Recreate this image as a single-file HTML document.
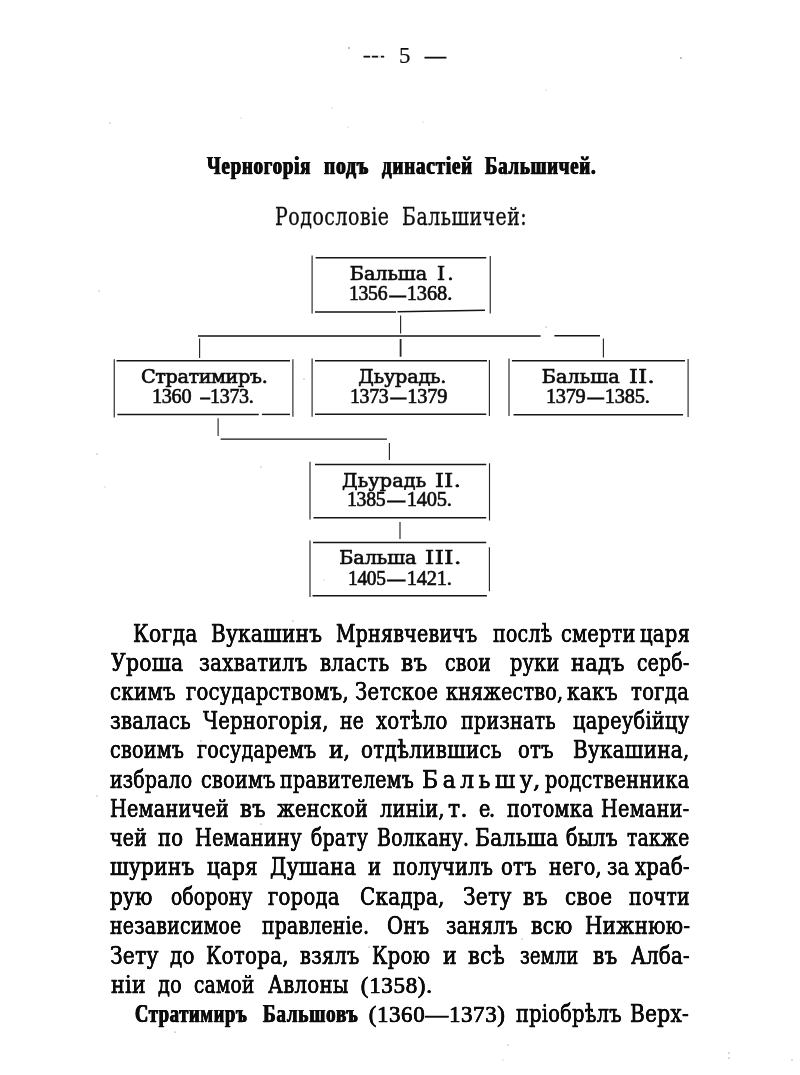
<!DOCTYPE html>
<html lang="ru"><head><meta charset="utf-8"><title>Черногорія подъ династіей Бальшичей</title>
<style>
html,body{margin:0;padding:0;background:#fff}
body{width:800px;height:1075px;position:relative;overflow:hidden;color:#0c0c0c}
.w{position:absolute;white-space:nowrap;line-height:30px;height:30px;transform-origin:0 0}
.page{position:absolute;left:0;top:0;width:800px;height:1075px;will-change:transform}
.b{font-family:'DejaVu Serif Condensed','DejaVu Serif','Liberation Serif',serif;font-size:24.3px;font-weight:normal;-webkit-text-stroke:0.3px #0c0c0c;text-shadow:0.2px 0 0 #0c0c0c,-0.2px 0 0 #0c0c0c}
.bb{font-family:'Liberation Serif','DejaVu Serif',serif;font-size:26.0px;font-weight:bold;-webkit-text-stroke:0.25px #0c0c0c;text-shadow:0.65px 0 0 #0c0c0c,-0.65px 0 0 #0c0c0c}
.t{font-family:'Liberation Serif','DejaVu Serif',serif;font-size:26.0px;font-weight:bold;-webkit-text-stroke:0.25px #0c0c0c;text-shadow:0.75px 0 0 #0c0c0c,-0.75px 0 0 #0c0c0c}
.s{font-family:'DejaVu Serif Condensed','DejaVu Serif','Liberation Serif',serif;font-size:23.4px;font-weight:normal;-webkit-text-stroke:0.3px #0c0c0c}
.n{font-family:'DejaVu Serif','Liberation Serif',serif;font-size:19.2px;font-weight:normal;-webkit-text-stroke:0.7px #0c0c0c}
.d{font-family:'Liberation Serif','DejaVu Serif',serif;font-size:20.4px;font-weight:normal;-webkit-text-stroke:0.65px #0c0c0c}
.bd{font-family:'Liberation Serif','DejaVu Serif',serif;font-size:23.0px;font-weight:normal;-webkit-text-stroke:0.5px #0c0c0c;text-shadow:0.25px 0 0 #0c0c0c,-0.25px 0 0 #0c0c0c}
.dd{font-family:'Liberation Serif','DejaVu Serif',serif;font-size:14.0px;font-weight:normal;-webkit-text-stroke:1.4px #0c0c0c}
.hd{font-family:'Liberation Serif','DejaVu Serif',serif;font-size:22.0px;font-weight:normal;-webkit-text-stroke:0.7px #0c0c0c}
.p{font-family:'Liberation Serif','DejaVu Serif',serif;font-size:23.0px;font-weight:normal;-webkit-text-stroke:0.2px #0c0c0c}

svg.rules{position:absolute;left:0;top:0}
.gap{position:absolute;background:#fff;z-index:3;opacity:.85}

</style></head>
<body>
<div class="page">
<svg class="rules" width="800" height="1075" viewBox="0 0 800 1075"><g stroke="#151515" stroke-width="1.45" fill="none"><line x1="315.6" y1="257.7" x2="486.25" y2="257.7"/><line x1="315" y1="312.0" x2="396" y2="312.0"/><line x1="397.5" y1="311.7" x2="485" y2="310.2"/><line x1="198" y1="336" x2="540.6" y2="336"/><line x1="554.4" y1="335.8" x2="600" y2="335.8"/><line x1="116.5" y1="360.7" x2="290" y2="360.7"/><line x1="117.4" y1="414.4" x2="258.75" y2="414.4"/><line x1="261.9" y1="414.4" x2="290" y2="414.4"/><line x1="315" y1="360.75" x2="487" y2="360.75"/><line x1="315" y1="414.3" x2="486.25" y2="414.3"/><line x1="511.9" y1="360.75" x2="685" y2="360.75"/><line x1="513.5" y1="414.7" x2="683.1" y2="414.7"/><line x1="220.6" y1="439.1" x2="386.9" y2="439.1"/><line x1="315" y1="464.4" x2="486.25" y2="464.4"/><line x1="313.5" y1="517.8" x2="486.25" y2="517.8"/><line x1="313" y1="542.4" x2="486.25" y2="542.4"/><line x1="312.5" y1="595.8" x2="486.9" y2="595.8"/></g><g stroke="#262626" stroke-width="1.15" fill="none"><line x1="312.1" y1="255.5" x2="312.1" y2="313.6"/><line x1="490.25" y1="256" x2="490.25" y2="313.6"/><line x1="400.6" y1="315.5" x2="400.6" y2="333.5"/><line x1="400.6" y1="339" x2="400.6" y2="356.75" stroke-width="1.8"/><line x1="199.6" y1="338.6" x2="199.6" y2="358"/><line x1="603.4" y1="338.6" x2="603.4" y2="357.4"/><line x1="114.25" y1="359.25" x2="114.25" y2="417.4"/><line x1="292.9" y1="359.25" x2="292.9" y2="416.75"/><line x1="312.1" y1="358.6" x2="312.1" y2="416.75"/><line x1="489.4" y1="360" x2="489.4" y2="416"/><line x1="509" y1="358.6" x2="509" y2="416"/><line x1="688.1" y1="359" x2="688.1" y2="417"/><line x1="218.1" y1="418.25" x2="218.1" y2="436.1"/><line x1="389.4" y1="443" x2="389.4" y2="459.9"/><line x1="310" y1="461.75" x2="310" y2="519.4"/><line x1="489.5" y1="463.25" x2="489.5" y2="520.5"/><line x1="400" y1="522" x2="400" y2="539"/><line x1="310" y1="540.6" x2="310" y2="596.9"/><line x1="489.4" y1="547.25" x2="489.4" y2="591.25"/></g><g fill="#555" stroke="none"><circle cx="349" cy="48" r="0.7"/><circle cx="110" cy="123" r="0.5"/><circle cx="332" cy="108" r="0.4"/><circle cx="241" cy="118" r="0.4"/><circle cx="348" cy="127" r="0.4"/><circle cx="99" cy="291" r="0.5"/><circle cx="304" cy="379" r="0.5"/><circle cx="97" cy="454" r="0.5"/><circle cx="261" cy="467" r="0.5"/><circle cx="105" cy="487" r="0.4"/><circle cx="681" cy="58" r="0.7"/><circle cx="546" cy="90" r="0.4"/><circle cx="423" cy="122" r="0.4"/><circle cx="546" cy="327" r="0.5"/><circle cx="293" cy="621" r="0.5"/><circle cx="201" cy="741" r="0.6"/><circle cx="97" cy="796" r="0.5"/><circle cx="261" cy="824" r="0.6"/><circle cx="369" cy="947" r="0.5"/><circle cx="175" cy="1032" r="0.6"/><circle cx="324" cy="580" r="0.4"/><circle cx="522" cy="939" r="0.5"/><circle cx="508" cy="1045" r="0.5"/><circle cx="729" cy="1053" r="0.6"/><circle cx="729" cy="1058" r="0.6"/><circle cx="792" cy="1060" r="0.5"/><circle cx="503" cy="1060" r="0.4"/></g></svg>
<div class="ln hdr">
<span class="w hd" style="left:364.20px;top:40.20px;transform:scaleX(0.8978)">—</span>
<span class="w p" style="left:398.76px;top:41.00px;transform:scaleX(0.9895)">5</span>
<span class="w hd" style="left:425.48px;top:41.20px;transform:scaleX(0.9522)">—</span>
</div>
<div class="ln title">
<span class="w t" style="left:207.26px;top:151.00px;letter-spacing:1.20px;transform:scaleX(0.7186)">Черногорія</span>
<span class="w t" style="left:324.40px;top:151.00px;letter-spacing:1.20px;transform:scaleX(0.7473)">подъ</span>
<span class="w t" style="left:381.61px;top:151.00px;letter-spacing:1.20px;transform:scaleX(0.7290)">династіей</span>
<span class="w t" style="left:485.18px;top:151.00px;letter-spacing:1.20px;transform:scaleX(0.7179)">Бальшичей.</span>
</div>
<div class="ln sub">
<span class="w s" style="left:275.10px;top:201.50px;letter-spacing:0.60px;transform:scaleX(0.8993)">Родословіе</span>
<span class="w s" style="left:401.60px;top:201.50px;letter-spacing:0.60px;transform:scaleX(0.8953)">Бальшичей:</span>
</div>
<div class="ln box">
<span class="w n" style="left:349.85px;top:258.90px;letter-spacing:-0.04px">Бальша</span>
<span class="w n" style="left:436.70px;top:258.90px;letter-spacing:2.00px;transform:scaleX(1.0667)">I.</span>
<span class="w d" style="left:348.55px;top:278.25px;letter-spacing:-0.30px;transform:scaleX(0.9659)">1356</span>
<span class="w dd" style="left:389.53px;top:280.55px;transform:scaleX(1.1032)">—</span>
<span class="w d" style="left:406.70px;top:278.25px;letter-spacing:-0.05px">1368.</span>
</div>
<div class="ln box">
<span class="w n" style="left:141.00px;top:362.00px;letter-spacing:-0.40px">Стратимиръ.</span>
<span class="w d" style="left:152.11px;top:380.90px;letter-spacing:-0.30px;transform:scaleX(0.9908)">1360</span>
<span class="w dd" style="left:201.39px;top:383.20px;transform:scaleX(1.1882)">–</span>
<span class="w d" style="left:210.43px;top:380.90px;letter-spacing:-0.30px;transform:scaleX(0.9798)">1373.</span>
</div>
<div class="ln box">
<span class="w n" style="left:358.25px;top:362.00px;letter-spacing:-0.18px">Дьурадь.</span>
<span class="w d" style="left:349.79px;top:380.90px;letter-spacing:-0.30px;transform:scaleX(0.9709)">1373</span>
<span class="w dd" style="left:390.69px;top:383.20px;transform:scaleX(1.0581)">—</span>
<span class="w d" style="left:407.20px;top:380.90px;letter-spacing:-0.18px">1379</span>
</div>
<div class="ln box">
<span class="w n" style="left:541.75px;top:362.00px;letter-spacing:0.08px">Бальша</span>
<span class="w n" style="left:629.12px;top:362.00px;letter-spacing:0.40px;transform:scaleX(1.1667)">II.</span>
<span class="w d" style="left:545.76px;top:380.90px;letter-spacing:-0.30px;transform:scaleX(0.9947)">1379</span>
<span class="w dd" style="left:587.63px;top:383.20px;transform:scaleX(1.1032)">—</span>
<span class="w d" style="left:604.80px;top:380.90px;letter-spacing:-0.20px">1385.</span>
</div>
<div class="ln box">
<span class="w n" style="left:342.00px;top:465.75px;letter-spacing:0.14px">Дьурадь</span>
<span class="w n" style="left:435.37px;top:465.75px;letter-spacing:0.40px;transform:scaleX(1.1692)">II.</span>
<span class="w d" style="left:347.29px;top:484.00px;letter-spacing:-0.30px;transform:scaleX(0.9709)">1385</span>
<span class="w dd" style="left:388.29px;top:486.30px;transform:scaleX(1.1871)">—</span>
<span class="w d" style="left:406.70px;top:484.00px;letter-spacing:-0.21px">1405.</span>
</div>
<div class="ln box">
<span class="w n" style="left:339.25px;top:543.40px;letter-spacing:-0.05px">Бальша</span>
<span class="w n" style="left:425.34px;top:543.40px;letter-spacing:0.40px;transform:scaleX(1.2075)">III.</span>
<span class="w d" style="left:347.97px;top:562.75px;letter-spacing:-0.30px;transform:scaleX(0.9511)">1405</span>
<span class="w dd" style="left:388.20px;top:565.05px;transform:scaleX(1.1935)">—</span>
<span class="w d" style="left:406.70px;top:562.75px;letter-spacing:-0.21px">1421.</span>
</div>
<div class="ln p">
<span class="w b" style="left:132.82px;top:619.00px;letter-spacing:0.30px;transform:scaleX(0.9308)">Когда</span>
<span class="w b" style="left:210.98px;top:619.00px;letter-spacing:0.30px;transform:scaleX(0.9162)">Вукашинъ</span>
<span class="w b" style="left:336.25px;top:619.00px;letter-spacing:0.30px;transform:scaleX(0.8682)">Мрнявчевичъ</span>
<span class="w b" style="left:492.67px;top:619.00px;letter-spacing:0.30px;transform:scaleX(0.8686)">послѣ</span>
<span class="w b" style="left:560.59px;top:619.00px;letter-spacing:0.30px;transform:scaleX(0.8816)">смерти</span>
<span class="w b" style="left:639.85px;top:619.00px;letter-spacing:0.30px;transform:scaleX(0.8952)">царя</span>
</div>
<div class="ln p">
<span class="w b" style="left:110.60px;top:647.50px;letter-spacing:0.30px;transform:scaleX(0.9313)">Уроша</span>
<span class="w b" style="left:199.32px;top:647.50px;letter-spacing:0.30px;transform:scaleX(0.9075)">захватилъ</span>
<span class="w b" style="left:320.15px;top:647.50px;letter-spacing:0.30px;transform:scaleX(0.8997)">власть</span>
<span class="w b" style="left:400.71px;top:647.50px;letter-spacing:0.30px;transform:scaleX(0.9881)">въ</span>
<span class="w b" style="left:444.95px;top:647.50px;letter-spacing:0.30px;transform:scaleX(0.8638)">свои</span>
<span class="w b" style="left:509.56px;top:647.50px;letter-spacing:0.30px;transform:scaleX(0.8801)">руки</span>
<span class="w b" style="left:571.42px;top:647.50px;letter-spacing:0.30px;transform:scaleX(0.9570)">надъ</span>
<span class="w b" style="left:636.86px;top:647.50px;letter-spacing:0.30px;transform:scaleX(0.8579)">серб-</span>
</div>
<div class="ln p">
<span class="w b" style="left:109.92px;top:676.80px;letter-spacing:0.30px;transform:scaleX(0.9045)">скимъ</span>
<span class="w b" style="left:186.45px;top:676.80px;letter-spacing:0.30px;transform:scaleX(0.8952)">государствомъ,</span>
<span class="w b" style="left:354.70px;top:676.80px;letter-spacing:0.30px;transform:scaleX(0.8978)">Зетское</span>
<span class="w b" style="left:445.82px;top:676.80px;letter-spacing:0.30px;transform:scaleX(0.8699)">княжество,</span>
<span class="w b" style="left:567.04px;top:676.80px;letter-spacing:0.30px;transform:scaleX(0.9184)">какъ</span>
<span class="w b" style="left:631.23px;top:676.80px;letter-spacing:0.30px;transform:scaleX(0.8995)">тогда</span>
</div>
<div class="ln p">
<span class="w b" style="left:109.93px;top:706.00px;letter-spacing:0.30px;transform:scaleX(0.8967)">звалась</span>
<span class="w b" style="left:202.50px;top:706.00px;letter-spacing:0.30px;transform:scaleX(0.8903)">Черногорія,</span>
<span class="w b" style="left:340.17px;top:706.00px;letter-spacing:0.30px;transform:scaleX(0.8555)">не</span>
<span class="w b" style="left:375.60px;top:706.00px;letter-spacing:0.30px;transform:scaleX(0.9000)">хотѣло</span>
<span class="w b" style="left:461.46px;top:706.00px;letter-spacing:0.30px;transform:scaleX(0.8708)">признать</span>
<span class="w b" style="left:572.66px;top:706.00px;letter-spacing:0.30px;transform:scaleX(0.8849)">цареубійцу</span>
</div>
<div class="ln p">
<span class="w b" style="left:110.34px;top:735.40px;letter-spacing:0.30px;transform:scaleX(0.8739)">своимъ</span>
<span class="w b" style="left:197.06px;top:735.40px;letter-spacing:0.30px;transform:scaleX(0.8719)">государемъ</span>
<span class="w b" style="left:328.90px;top:735.40px;letter-spacing:-0.30px">и,</span>
<span class="w b" style="left:360.57px;top:735.40px;letter-spacing:0.30px;transform:scaleX(0.9093)">отдѣлившись</span>
<span class="w b" style="left:518.08px;top:735.40px;letter-spacing:0.30px;transform:scaleX(0.8931)">отъ</span>
<span class="w b" style="left:573.49px;top:735.40px;letter-spacing:0.30px;transform:scaleX(0.9122)">Вукашина,</span>
</div>
<div class="ln p">
<span class="w b" style="left:109.57px;top:764.70px;letter-spacing:0.30px;transform:scaleX(0.8602)">избрало</span>
<span class="w b" style="left:200.59px;top:764.70px;letter-spacing:0.30px;transform:scaleX(0.8787)">своимъ</span>
<span class="w b" style="left:279.87px;top:764.70px;letter-spacing:0.30px;transform:scaleX(0.8680)">правителемъ</span>
<span class="w b" style="left:422.10px;top:764.70px;letter-spacing:4.48px">Бальшу</span>
<span class="w b" style="left:532.67px;top:764.70px;transform:scaleX(1.0667)">,</span>
<span class="w b" style="left:544.86px;top:764.70px;letter-spacing:0.30px;transform:scaleX(0.8798)">родственника</span>
</div>
<div class="ln p">
<span class="w b" style="left:109.72px;top:794.00px;letter-spacing:0.30px;transform:scaleX(0.8765)">Неманичей</span>
<span class="w b" style="left:239.52px;top:794.00px;letter-spacing:0.30px;transform:scaleX(0.9644)">въ</span>
<span class="w b" style="left:276.90px;top:794.00px;letter-spacing:0.30px;transform:scaleX(0.8819)">женской</span>
<span class="w b" style="left:379.78px;top:794.00px;letter-spacing:0.30px;transform:scaleX(0.8834)">линіи,</span>
<span class="w b" style="left:448.00px;top:794.00px;letter-spacing:0.35px">т.</span>
<span class="w b" style="left:479.35px;top:794.00px;letter-spacing:-1.50px;transform:scaleX(0.8730)">е.</span>
<span class="w b" style="left:507.06px;top:794.00px;letter-spacing:0.30px;transform:scaleX(0.8775)">потомка</span>
<span class="w b" style="left:601.02px;top:794.00px;letter-spacing:0.30px;transform:scaleX(0.8787)">Немани-</span>
</div>
<div class="ln p">
<span class="w b" style="left:110.17px;top:822.80px;letter-spacing:0.30px;transform:scaleX(0.8674)">чей</span>
<span class="w b" style="left:158.30px;top:822.80px;letter-spacing:0.30px;transform:scaleX(0.8945)">по</span>
<span class="w b" style="left:195.37px;top:822.80px;letter-spacing:0.30px;transform:scaleX(0.8834)">Неманину</span>
<span class="w b" style="left:310.61px;top:822.80px;letter-spacing:0.30px;transform:scaleX(0.8594)">брату</span>
<span class="w b" style="left:376.63px;top:822.80px;letter-spacing:0.30px;transform:scaleX(0.8650)">Волкану.</span>
<span class="w b" style="left:475.32px;top:822.80px;letter-spacing:0.30px;transform:scaleX(0.9275)">Бальша</span>
<span class="w b" style="left:566.24px;top:822.80px;letter-spacing:0.30px;transform:scaleX(0.8739)">былъ</span>
<span class="w b" style="left:627.46px;top:822.80px;letter-spacing:0.30px;transform:scaleX(0.8523)">также</span>
</div>
<div class="ln p">
<span class="w b" style="left:110.14px;top:852.20px;letter-spacing:0.30px;transform:scaleX(0.9188)">шуринъ</span>
<span class="w b" style="left:207.05px;top:852.20px;letter-spacing:0.30px;transform:scaleX(0.9081)">царя</span>
<span class="w b" style="left:269.91px;top:852.20px;letter-spacing:0.30px;transform:scaleX(0.9239)">Душана</span>
<span class="w b" style="left:367.65px;top:852.20px;transform:scaleX(0.8981)">и</span>
<span class="w b" style="left:392.66px;top:852.20px;letter-spacing:0.30px;transform:scaleX(0.8814)">получилъ</span>
<span class="w b" style="left:501.23px;top:852.20px;letter-spacing:0.30px;transform:scaleX(0.8957)">отъ</span>
<span class="w b" style="left:548.96px;top:852.20px;letter-spacing:0.30px;transform:scaleX(0.8732)">него,</span>
<span class="w b" style="left:606.85px;top:852.20px;letter-spacing:0.30px;transform:scaleX(0.8732)">за</span>
<span class="w b" style="left:635.00px;top:852.20px;letter-spacing:0.30px;transform:scaleX(0.8933)">храб-</span>
</div>
<div class="ln p">
<span class="w b" style="left:110.14px;top:881.60px;letter-spacing:0.30px;transform:scaleX(0.9107)">рую</span>
<span class="w b" style="left:170.61px;top:881.60px;letter-spacing:0.30px;transform:scaleX(0.8485)">оборону</span>
<span class="w b" style="left:268.30px;top:881.60px;letter-spacing:0.30px;transform:scaleX(0.8971)">города</span>
<span class="w b" style="left:360.34px;top:881.60px;letter-spacing:0.30px;transform:scaleX(0.9115)">Скадра,</span>
<span class="w b" style="left:463.48px;top:881.60px;letter-spacing:0.30px;transform:scaleX(0.9241)">Зету</span>
<span class="w b" style="left:523.29px;top:881.60px;letter-spacing:0.30px;transform:scaleX(0.9269)">въ</span>
<span class="w b" style="left:564.91px;top:881.60px;letter-spacing:0.30px;transform:scaleX(0.9148)">свое</span>
<span class="w b" style="left:629.07px;top:881.60px;letter-spacing:0.30px;transform:scaleX(0.8661)">почти</span>
</div>
<div class="ln p">
<span class="w b" style="left:110.17px;top:911.00px;letter-spacing:0.30px;transform:scaleX(0.8624)">независимое</span>
<span class="w b" style="left:262.07px;top:911.00px;letter-spacing:0.30px;transform:scaleX(0.8575)">правленіе.</span>
<span class="w b" style="left:387.20px;top:911.00px;letter-spacing:0.30px;transform:scaleX(0.8964)">Онъ</span>
<span class="w b" style="left:446.25px;top:911.00px;letter-spacing:0.30px;transform:scaleX(0.8689)">занялъ</span>
<span class="w b" style="left:531.43px;top:911.00px;letter-spacing:0.30px;transform:scaleX(0.9335)">всю</span>
<span class="w b" style="left:584.69px;top:911.00px;letter-spacing:0.30px;transform:scaleX(0.9086)">Нижнюю-</span>
</div>
<div class="ln p">
<span class="w b" style="left:109.68px;top:940.50px;letter-spacing:0.30px;transform:scaleX(0.9241)">Зету</span>
<span class="w b" style="left:170.15px;top:940.50px;letter-spacing:0.30px;transform:scaleX(0.9061)">до</span>
<span class="w b" style="left:205.99px;top:940.50px;letter-spacing:0.30px;transform:scaleX(0.9060)">Котора,</span>
<span class="w b" style="left:300.16px;top:940.50px;letter-spacing:0.30px;transform:scaleX(0.8851)">взялъ</span>
<span class="w b" style="left:371.59px;top:940.50px;letter-spacing:0.30px;transform:scaleX(0.9051)">Крою</span>
<span class="w b" style="left:442.63px;top:940.50px;transform:scaleX(0.9434)">и</span>
<span class="w b" style="left:467.62px;top:940.50px;letter-spacing:0.30px;transform:scaleX(0.9609)">всѣ</span>
<span class="w b" style="left:519.99px;top:940.50px;letter-spacing:0.30px;transform:scaleX(0.8134)">земли</span>
<span class="w b" style="left:592.64px;top:940.50px;letter-spacing:0.30px;transform:scaleX(0.9150)">въ</span>
<span class="w b" style="left:631.00px;top:940.50px;letter-spacing:0.30px;transform:scaleX(0.8999)">Алба-</span>
</div>
<div class="ln p">
<span class="w b" style="left:110.53px;top:969.50px;letter-spacing:0.30px;transform:scaleX(0.9448)">ніи</span>
<span class="w b" style="left:157.66px;top:969.50px;letter-spacing:0.30px;transform:scaleX(0.8806)">до</span>
<span class="w b" style="left:194.37px;top:969.50px;letter-spacing:0.30px;transform:scaleX(0.8459)">самой</span>
<span class="w b" style="left:267.50px;top:969.50px;letter-spacing:0.30px;transform:scaleX(0.9014)">Авлоны</span>
<span class="w bd" style="left:360.85px;top:970.50px;letter-spacing:0.67px">(1358).</span>
</div>
<div class="ln p">
<span class="w bb" style="left:135.07px;top:998.50px;letter-spacing:1.00px;transform:scaleX(0.7100)">Стратимиръ</span>
<span class="w bb" style="left:262.68px;top:998.50px;letter-spacing:1.00px;transform:scaleX(0.7364)">Бальшовъ</span>
<span class="w bd" style="left:368.65px;top:999.50px;letter-spacing:0.60px">(1360—1373)</span>
<span class="w b" style="left:516.46px;top:998.50px;letter-spacing:0.30px;transform:scaleX(0.8851)">пріобрѣлъ</span>
<span class="w b" style="left:630.33px;top:998.50px;letter-spacing:0.30px;transform:scaleX(0.9204)">Верх-</span>
</div>
<i class="gap" style="left:369.9px;top:53px;width:2px;height:7px"></i><i class="gap" style="left:378.2px;top:53px;width:2.4px;height:7px"></i>
</div>
</body></html>
